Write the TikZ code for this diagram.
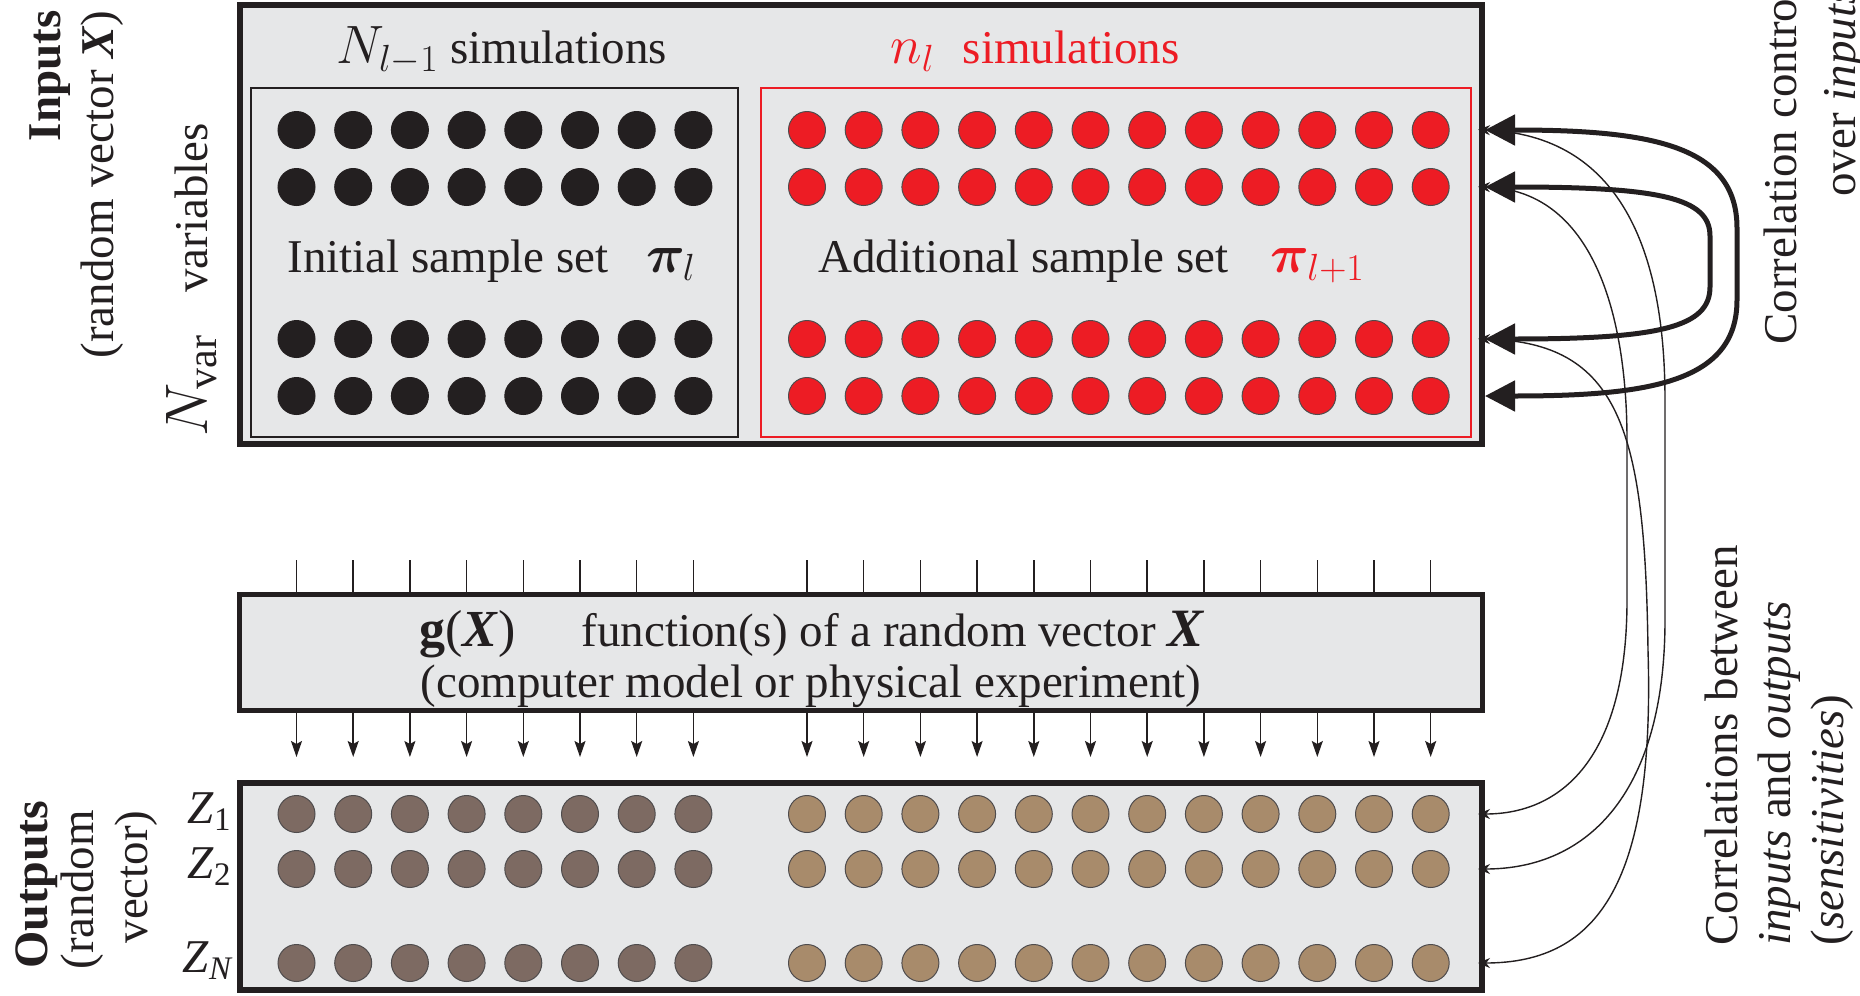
\RequirePackage{fix-cm}
\documentclass[tikz,border=0pt]{standalone}
\usepackage{fontspec}
\setmainfont{Liberation Serif}
\usepackage{bm}
\usetikzlibrary{arrows.meta,calc}

\definecolor{panel}{HTML}{E6E7E8}
\definecolor{ink}{HTML}{231F20}
\definecolor{simred}{HTML}{ED1C24}
\definecolor{outdark}{HTML}{7D6A62}
\definecolor{outtan}{HTML}{A88B6B}

% math set a little larger than the surrounding text
\newcommand{\mth}[1]{{\fontsize{27}{28}\selectfont$#1$}}
\newcommand{\bigX}{{\fontsize{27}{28}\selectfont\textbf{\textit{X}}}}

\begin{document}
\begin{tikzpicture}[x=0.5pt,y=-0.5pt,
  txt/.style={font=\fontsize{23.5}{27}\selectfont, inner sep=0pt, text=ink},
  panelbox/.style={draw=ink, fill=panel, line width=3pt, inner sep=0pt, outer sep=1.5pt},
  setbox/.style={draw=ink, line width=1pt, inner sep=0pt, outer sep=0pt},
  dot/.style={circle, fill=#1, draw=ink!80, line width=0.5pt, minimum size=18.5pt, inner sep=0pt},
  tickline/.style={draw=ink, line width=0.75pt},
  feed/.style={draw=ink, line width=0.75pt, -{Stealth[length=8pt,width=5.5pt,inset=1.5pt]}},
  loop/.style={draw=ink, line width=2.5pt, {Triangle[length=15pt,width=15pt]}-{Triangle[length=15pt,width=15pt]}},
  link/.style={draw=ink, line width=0.7pt, {Stealth[length=6pt,width=5pt]}-{Stealth[length=6pt,width=5pt]}, shorten <=-3.5pt, shorten >=-3.5pt}
]
\useasboundingbox (0,0) rectangle (1860,996);
\clip (0,0) rectangle (1860,996);

% ---------- input panel ----------
\node[panelbox, minimum width=621pt, minimum height=219.5pt] (inbox) at (861,224.5) {};
\node[setbox, minimum width=243.5pt, minimum height=174.5pt] (initset) at (494.5,262.5) {};
\node[setbox, draw=simred, minimum width=355pt, minimum height=174.5pt] (addset) at (1116,262.5) {};

\foreach \r/\y in {1/130,2/187,3/339,4/396}{
  \foreach \c in {1,...,8}
    \node[dot=ink, draw=ink] (a-\r-\c) at ({296.5+56.7*(\c-1)},\y) {};
  \foreach \c in {1,...,12}
    \node[dot=simred] (b-\r-\c) at ({807+56.7*(\c-1)},\y) {};
}

\node[txt, anchor=base] (nprev) at (502,63) {\mth{N_{l-1}} simulations};
\node[txt, anchor=base, text=simred] (nnew) at (1035,63) {\mth{n_l}\hspace{0.6em}simulations};
\node[txt, anchor=base west] (initlbl) at (287,272) {Initial sample set\hspace{0.8em}\mth{\bm{\pi}_l}};
\node[txt, anchor=base west] (addlbl) at (818,272) {Additional sample set\hspace{0.9em}{\color{simred}\mth{\bm{\pi}_{l+1}}}};

% ---------- model panel ----------
\node[panelbox, line width=2.5pt, outer sep=1.25pt, minimum width=621.5pt, minimum height=58pt] (gbox) at (861,652.5) {};
\node[txt, anchor=base] (gline1) at (812,646) {{\fontsize{26}{28}\selectfont\textbf{g}(\textbf{\textit{X}})}\hspace{1.4em}function(s) of a random vector \bigX};
\node[txt, anchor=base] (gline2) at (811,697) {(computer model or physical experiment)};

% ---------- output panel ----------
\node[panelbox, minimum width=621pt, minimum height=103.5pt] (outbox) at (861,886.5) {};
\foreach \r/\y in {1/814,2/869,3/963}{
  \foreach \c in {1,...,8}
    \node[dot=outdark] (c-\r-\c) at ({296.5+56.7*(\c-1)},\y) {};
  \foreach \c in {1,...,12}
    \node[dot=outtan] (d-\r-\c) at ({807+56.7*(\c-1)},\y) {};
}
\node[txt, anchor=base east] (z1) at (232,823) {\textit{Z}\textsubscript{1}};
\node[txt, anchor=base east] (z2) at (232,878) {\textit{Z}\textsubscript{2}};
\node[txt, anchor=base east] (zn) at (234,972) {\textit{Z}\textsubscript{\textit{N}}};

% ---------- feeds into and out of the model ----------
\foreach \c in {1,...,8}{
  \draw[tickline] (a-4-\c |- 0,560) -- (a-4-\c |- gbox.north);
  \draw[feed] (a-4-\c |- gbox.south) -- (a-4-\c |- 0,757);
}
\foreach \c in {1,...,12}{
  \draw[tickline] (b-4-\c |- 0,560) -- (b-4-\c |- gbox.north);
  \draw[feed] (b-4-\c |- gbox.south) -- (b-4-\c |- 0,757);
}

% ---------- side labels ----------
\node[txt, rotate=90, anchor=base east, font=\fontsize{23.5}{26}\selectfont\bfseries] (inlbl) at (61,10) {Inputs};
\node[txt, rotate=90, anchor=base east] (inlbl2) at (113,10) {(random vector \textbf{\textit{X}})};
\node[txt, rotate=90, anchor=base west] (nvar) at (207,437) {{\fontsize{30}{30}\selectfont$N_{\mathrm{var}}$}\hspace{0.9em}variables};

\node[txt, rotate=90, anchor=base east, font=\fontsize{24}{26}\selectfont\bfseries] (outlbl) at (47,800) {Outputs};
\node[txt, rotate=90, anchor=base east] (outlbl2) at (93,810) {(random};
\node[txt, rotate=90, anchor=base east] (outlbl3) at (147,810) {vector)};

\node[txt, rotate=90, anchor=base west] (ctl1) at (1796,345) {Correlation control};
\node[txt, rotate=90, anchor=base west] (ctl2) at (1855,197) {over \textit{inputs}};

\node[txt, rotate=90, anchor=base west] (sen1) at (1737,946) {Correlations between};
\node[txt, rotate=90, anchor=base west] (sen2) at (1790,946) {\textit{inputs} and \textit{outputs}};
\node[txt, rotate=90, anchor=base west] (sen3) at (1843,946) {(\textit{sensitivities})};

% ---------- correlation connectors ----------
\coordinate (pin1) at (inbox.east |- b-1-12);
\coordinate (pin2) at (inbox.east |- b-2-12);
\coordinate (pin3) at (inbox.east |- b-3-12);
\coordinate (pin4) at (inbox.east |- b-4-12);
\coordinate (pout1) at (outbox.east |- d-1-12);
\coordinate (pout2) at (outbox.east |- d-2-12);
\coordinate (pout3) at (outbox.east |- d-3-12);

\draw[link] (pin1) .. controls (1620,135) and (1665,250) .. (1665,400) -- (1665,620)
            .. controls (1665,790) and (1590,869) .. (pout2);
\draw[link] (pin2) .. controls (1600,190) and (1627,330) .. (1627,440) -- (1627,600)
            .. controls (1627,760) and (1560,814) .. (pout1);
\draw[link] (pin3) .. controls (1620,342) and (1645,430) .. (1648,650)
            .. controls (1655,880) and (1600,963) .. (pout3);

\draw[loop] (pin1) .. controls (1650,130) and (1737,145) .. (1737,228) -- (1737,300)
            .. controls (1737,382) and (1650,396) .. (pin4);
\draw[loop] (pin2) .. controls (1660,187) and (1710,198) .. (1710,236) -- (1710,287)
            .. controls (1710,327) and (1660,339) .. (pin3);
\end{tikzpicture}
\end{document}
